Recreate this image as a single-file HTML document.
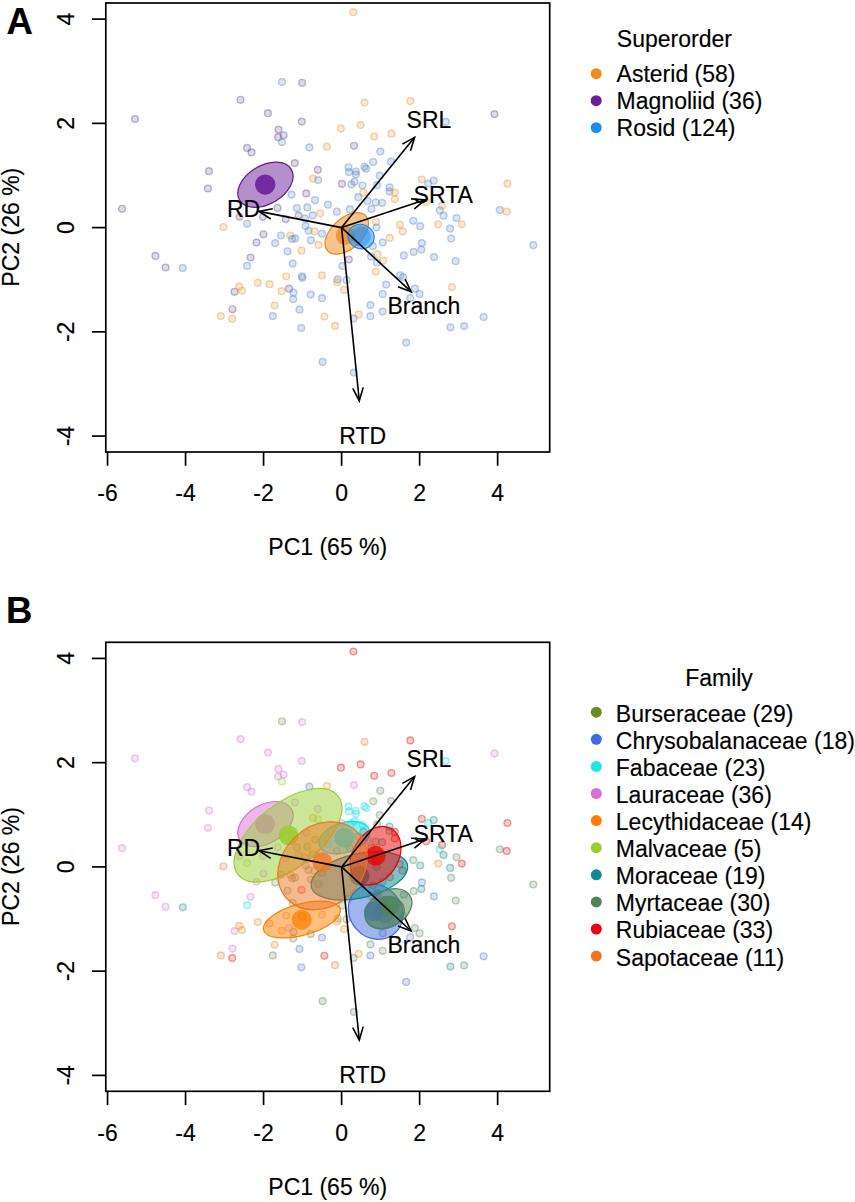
<!DOCTYPE html><html><head><meta charset="utf-8"><style>html,body{margin:0;padding:0;background:#fff}svg{display:block}</style></head><body>
<svg width="855" height="1202" viewBox="0 0 855 1202">
<defs><filter id="pb" x="-5%" y="-5%" width="110%" height="110%"><feGaussianBlur stdDeviation="0.55"/></filter></defs>
<rect width="855" height="1202" fill="#fff"/>
<g filter="url(#pb)">
<circle cx="135.0" cy="119.0" r="3.4" fill="#604283" fill-opacity="0.2" stroke="#604283" stroke-opacity="0.37" stroke-width="1.4"/>
<circle cx="209.0" cy="171.2" r="3.4" fill="#604283" fill-opacity="0.2" stroke="#604283" stroke-opacity="0.37" stroke-width="1.4"/>
<circle cx="207.9" cy="188.5" r="3.4" fill="#604283" fill-opacity="0.2" stroke="#604283" stroke-opacity="0.37" stroke-width="1.4"/>
<circle cx="122.0" cy="208.8" r="3.4" fill="#604283" fill-opacity="0.2" stroke="#604283" stroke-opacity="0.37" stroke-width="1.4"/>
<circle cx="223.4" cy="227.0" r="3.4" fill="#DE9230" fill-opacity="0.2" stroke="#DE9230" stroke-opacity="0.37" stroke-width="1.4"/>
<circle cx="155.4" cy="255.9" r="3.4" fill="#604283" fill-opacity="0.2" stroke="#604283" stroke-opacity="0.37" stroke-width="1.4"/>
<circle cx="165.6" cy="267.5" r="3.4" fill="#604283" fill-opacity="0.2" stroke="#604283" stroke-opacity="0.37" stroke-width="1.4"/>
<circle cx="182.8" cy="268.0" r="3.4" fill="#517DBE" fill-opacity="0.2" stroke="#517DBE" stroke-opacity="0.37" stroke-width="1.4"/>
<circle cx="234.5" cy="291.8" r="3.4" fill="#604283" fill-opacity="0.2" stroke="#604283" stroke-opacity="0.37" stroke-width="1.4"/>
<circle cx="232.5" cy="309.3" r="3.4" fill="#604283" fill-opacity="0.2" stroke="#604283" stroke-opacity="0.37" stroke-width="1.4"/>
<circle cx="220.8" cy="316.1" r="3.4" fill="#DE9230" fill-opacity="0.2" stroke="#DE9230" stroke-opacity="0.37" stroke-width="1.4"/>
<circle cx="232.2" cy="318.7" r="3.4" fill="#DE9230" fill-opacity="0.2" stroke="#DE9230" stroke-opacity="0.37" stroke-width="1.4"/>
<circle cx="322.6" cy="361.9" r="3.4" fill="#517DBE" fill-opacity="0.2" stroke="#517DBE" stroke-opacity="0.37" stroke-width="1.4"/>
<circle cx="353.9" cy="372.6" r="3.4" fill="#517DBE" fill-opacity="0.2" stroke="#517DBE" stroke-opacity="0.37" stroke-width="1.4"/>
<circle cx="353.4" cy="12.2" r="3.4" fill="#DE9230" fill-opacity="0.2" stroke="#DE9230" stroke-opacity="0.37" stroke-width="1.4"/>
<circle cx="364.5" cy="102.5" r="3.4" fill="#DE9230" fill-opacity="0.2" stroke="#DE9230" stroke-opacity="0.37" stroke-width="1.4"/>
<circle cx="410.3" cy="101.1" r="3.4" fill="#DE9230" fill-opacity="0.2" stroke="#DE9230" stroke-opacity="0.37" stroke-width="1.4"/>
<circle cx="494.5" cy="114.1" r="3.4" fill="#604283" fill-opacity="0.2" stroke="#604283" stroke-opacity="0.37" stroke-width="1.4"/>
<circle cx="282.0" cy="82.0" r="3.4" fill="#517DBE" fill-opacity="0.2" stroke="#517DBE" stroke-opacity="0.37" stroke-width="1.4"/>
<circle cx="302.1" cy="82.8" r="3.4" fill="#604283" fill-opacity="0.2" stroke="#604283" stroke-opacity="0.37" stroke-width="1.4"/>
<circle cx="240.5" cy="99.8" r="3.4" fill="#604283" fill-opacity="0.2" stroke="#604283" stroke-opacity="0.37" stroke-width="1.4"/>
<circle cx="267.9" cy="113.2" r="3.4" fill="#604283" fill-opacity="0.2" stroke="#604283" stroke-opacity="0.37" stroke-width="1.4"/>
<circle cx="301.8" cy="121.6" r="3.4" fill="#604283" fill-opacity="0.2" stroke="#604283" stroke-opacity="0.37" stroke-width="1.4"/>
<circle cx="340.9" cy="128.4" r="3.4" fill="#DE9230" fill-opacity="0.2" stroke="#DE9230" stroke-opacity="0.37" stroke-width="1.4"/>
<circle cx="278.5" cy="129.6" r="3.4" fill="#604283" fill-opacity="0.2" stroke="#604283" stroke-opacity="0.37" stroke-width="1.4"/>
<circle cx="278.1" cy="137.2" r="3.4" fill="#604283" fill-opacity="0.2" stroke="#604283" stroke-opacity="0.37" stroke-width="1.4"/>
<circle cx="283.6" cy="135.3" r="3.4" fill="#604283" fill-opacity="0.2" stroke="#604283" stroke-opacity="0.37" stroke-width="1.4"/>
<circle cx="282.0" cy="142.1" r="3.4" fill="#517DBE" fill-opacity="0.2" stroke="#517DBE" stroke-opacity="0.37" stroke-width="1.4"/>
<circle cx="247.1" cy="147.9" r="3.4" fill="#604283" fill-opacity="0.2" stroke="#604283" stroke-opacity="0.37" stroke-width="1.4"/>
<circle cx="251.5" cy="152.4" r="3.4" fill="#604283" fill-opacity="0.2" stroke="#604283" stroke-opacity="0.37" stroke-width="1.4"/>
<circle cx="309.4" cy="147.4" r="3.4" fill="#517DBE" fill-opacity="0.2" stroke="#517DBE" stroke-opacity="0.37" stroke-width="1.4"/>
<circle cx="326.9" cy="146.7" r="3.4" fill="#DE9230" fill-opacity="0.2" stroke="#DE9230" stroke-opacity="0.37" stroke-width="1.4"/>
<circle cx="294.8" cy="163.1" r="3.4" fill="#604283" fill-opacity="0.2" stroke="#604283" stroke-opacity="0.37" stroke-width="1.4"/>
<circle cx="317.8" cy="169.8" r="3.4" fill="#604283" fill-opacity="0.2" stroke="#604283" stroke-opacity="0.37" stroke-width="1.4"/>
<circle cx="313.0" cy="178.6" r="3.4" fill="#DE9230" fill-opacity="0.2" stroke="#DE9230" stroke-opacity="0.37" stroke-width="1.4"/>
<circle cx="318.1" cy="180.1" r="3.4" fill="#517DBE" fill-opacity="0.2" stroke="#517DBE" stroke-opacity="0.37" stroke-width="1.4"/>
<circle cx="360.6" cy="125.1" r="3.4" fill="#DE9230" fill-opacity="0.2" stroke="#DE9230" stroke-opacity="0.37" stroke-width="1.4"/>
<circle cx="374.2" cy="136.5" r="3.4" fill="#DE9230" fill-opacity="0.2" stroke="#DE9230" stroke-opacity="0.37" stroke-width="1.4"/>
<circle cx="391.4" cy="133.7" r="3.4" fill="#DE9230" fill-opacity="0.2" stroke="#DE9230" stroke-opacity="0.37" stroke-width="1.4"/>
<circle cx="354.0" cy="145.8" r="3.4" fill="#604283" fill-opacity="0.2" stroke="#604283" stroke-opacity="0.37" stroke-width="1.4"/>
<circle cx="380.3" cy="151.5" r="3.4" fill="#517DBE" fill-opacity="0.2" stroke="#517DBE" stroke-opacity="0.37" stroke-width="1.4"/>
<circle cx="373.2" cy="162.0" r="3.4" fill="#517DBE" fill-opacity="0.2" stroke="#517DBE" stroke-opacity="0.37" stroke-width="1.4"/>
<circle cx="391.0" cy="161.7" r="3.4" fill="#517DBE" fill-opacity="0.2" stroke="#517DBE" stroke-opacity="0.37" stroke-width="1.4"/>
<circle cx="348.5" cy="167.3" r="3.4" fill="#517DBE" fill-opacity="0.2" stroke="#517DBE" stroke-opacity="0.37" stroke-width="1.4"/>
<circle cx="348.9" cy="172.0" r="3.4" fill="#517DBE" fill-opacity="0.2" stroke="#517DBE" stroke-opacity="0.37" stroke-width="1.4"/>
<circle cx="355.9" cy="171.5" r="3.4" fill="#517DBE" fill-opacity="0.2" stroke="#517DBE" stroke-opacity="0.37" stroke-width="1.4"/>
<circle cx="355.9" cy="174.5" r="3.4" fill="#517DBE" fill-opacity="0.2" stroke="#517DBE" stroke-opacity="0.37" stroke-width="1.4"/>
<circle cx="364.4" cy="166.8" r="3.4" fill="#517DBE" fill-opacity="0.2" stroke="#517DBE" stroke-opacity="0.37" stroke-width="1.4"/>
<circle cx="366.2" cy="168.7" r="3.4" fill="#517DBE" fill-opacity="0.2" stroke="#517DBE" stroke-opacity="0.37" stroke-width="1.4"/>
<circle cx="379.8" cy="175.7" r="3.4" fill="#517DBE" fill-opacity="0.2" stroke="#517DBE" stroke-opacity="0.37" stroke-width="1.4"/>
<circle cx="341.9" cy="183.9" r="3.4" fill="#604283" fill-opacity="0.2" stroke="#604283" stroke-opacity="0.37" stroke-width="1.4"/>
<circle cx="351.3" cy="184.4" r="3.4" fill="#517DBE" fill-opacity="0.2" stroke="#517DBE" stroke-opacity="0.37" stroke-width="1.4"/>
<circle cx="354.5" cy="181.8" r="3.4" fill="#517DBE" fill-opacity="0.2" stroke="#517DBE" stroke-opacity="0.37" stroke-width="1.4"/>
<circle cx="362.5" cy="185.5" r="3.4" fill="#517DBE" fill-opacity="0.2" stroke="#517DBE" stroke-opacity="0.37" stroke-width="1.4"/>
<circle cx="377.0" cy="185.1" r="3.4" fill="#517DBE" fill-opacity="0.2" stroke="#517DBE" stroke-opacity="0.37" stroke-width="1.4"/>
<circle cx="389.6" cy="187.4" r="3.4" fill="#517DBE" fill-opacity="0.2" stroke="#517DBE" stroke-opacity="0.37" stroke-width="1.4"/>
<circle cx="389.6" cy="191.6" r="3.4" fill="#517DBE" fill-opacity="0.2" stroke="#517DBE" stroke-opacity="0.37" stroke-width="1.4"/>
<circle cx="394.8" cy="192.6" r="3.4" fill="#DE9230" fill-opacity="0.2" stroke="#DE9230" stroke-opacity="0.37" stroke-width="1.4"/>
<circle cx="394.8" cy="199.1" r="3.4" fill="#DE9230" fill-opacity="0.2" stroke="#DE9230" stroke-opacity="0.37" stroke-width="1.4"/>
<circle cx="363.4" cy="192.6" r="3.4" fill="#DE9230" fill-opacity="0.2" stroke="#DE9230" stroke-opacity="0.37" stroke-width="1.4"/>
<circle cx="358.3" cy="197.2" r="3.4" fill="#517DBE" fill-opacity="0.2" stroke="#517DBE" stroke-opacity="0.37" stroke-width="1.4"/>
<circle cx="367.6" cy="201.0" r="3.4" fill="#517DBE" fill-opacity="0.2" stroke="#517DBE" stroke-opacity="0.37" stroke-width="1.4"/>
<circle cx="375.6" cy="202.4" r="3.4" fill="#517DBE" fill-opacity="0.2" stroke="#517DBE" stroke-opacity="0.37" stroke-width="1.4"/>
<circle cx="382.1" cy="202.9" r="3.4" fill="#517DBE" fill-opacity="0.2" stroke="#517DBE" stroke-opacity="0.37" stroke-width="1.4"/>
<circle cx="371.4" cy="208.9" r="3.4" fill="#517DBE" fill-opacity="0.2" stroke="#517DBE" stroke-opacity="0.37" stroke-width="1.4"/>
<circle cx="327.9" cy="204.7" r="3.4" fill="#517DBE" fill-opacity="0.2" stroke="#517DBE" stroke-opacity="0.37" stroke-width="1.4"/>
<circle cx="336.8" cy="211.7" r="3.4" fill="#517DBE" fill-opacity="0.2" stroke="#517DBE" stroke-opacity="0.37" stroke-width="1.4"/>
<circle cx="349.9" cy="209.4" r="3.4" fill="#517DBE" fill-opacity="0.2" stroke="#517DBE" stroke-opacity="0.37" stroke-width="1.4"/>
<circle cx="376.0" cy="222.0" r="3.4" fill="#DE9230" fill-opacity="0.2" stroke="#DE9230" stroke-opacity="0.37" stroke-width="1.4"/>
<circle cx="376.5" cy="227.6" r="3.4" fill="#517DBE" fill-opacity="0.2" stroke="#517DBE" stroke-opacity="0.37" stroke-width="1.4"/>
<circle cx="399.9" cy="224.8" r="3.4" fill="#DE9230" fill-opacity="0.2" stroke="#DE9230" stroke-opacity="0.37" stroke-width="1.4"/>
<circle cx="421.8" cy="179.5" r="3.4" fill="#DE9230" fill-opacity="0.2" stroke="#DE9230" stroke-opacity="0.37" stroke-width="1.4"/>
<circle cx="428.2" cy="183.6" r="3.4" fill="#517DBE" fill-opacity="0.2" stroke="#517DBE" stroke-opacity="0.37" stroke-width="1.4"/>
<circle cx="306.2" cy="193.4" r="3.4" fill="#604283" fill-opacity="0.2" stroke="#604283" stroke-opacity="0.37" stroke-width="1.4"/>
<circle cx="291.6" cy="194.6" r="3.4" fill="#517DBE" fill-opacity="0.2" stroke="#517DBE" stroke-opacity="0.37" stroke-width="1.4"/>
<circle cx="315.0" cy="200.2" r="3.4" fill="#517DBE" fill-opacity="0.2" stroke="#517DBE" stroke-opacity="0.37" stroke-width="1.4"/>
<circle cx="277.5" cy="208.0" r="3.4" fill="#604283" fill-opacity="0.2" stroke="#604283" stroke-opacity="0.37" stroke-width="1.4"/>
<circle cx="296.8" cy="208.0" r="3.4" fill="#517DBE" fill-opacity="0.2" stroke="#517DBE" stroke-opacity="0.37" stroke-width="1.4"/>
<circle cx="307.3" cy="207.4" r="3.4" fill="#517DBE" fill-opacity="0.2" stroke="#517DBE" stroke-opacity="0.37" stroke-width="1.4"/>
<circle cx="320.2" cy="213.3" r="3.4" fill="#DE9230" fill-opacity="0.2" stroke="#DE9230" stroke-opacity="0.37" stroke-width="1.4"/>
<circle cx="312.6" cy="215.4" r="3.4" fill="#517DBE" fill-opacity="0.2" stroke="#517DBE" stroke-opacity="0.37" stroke-width="1.4"/>
<circle cx="298.6" cy="215.6" r="3.4" fill="#604283" fill-opacity="0.2" stroke="#604283" stroke-opacity="0.37" stroke-width="1.4"/>
<circle cx="305.0" cy="218.5" r="3.4" fill="#517DBE" fill-opacity="0.2" stroke="#517DBE" stroke-opacity="0.37" stroke-width="1.4"/>
<circle cx="285.7" cy="219.1" r="3.4" fill="#604283" fill-opacity="0.2" stroke="#604283" stroke-opacity="0.37" stroke-width="1.4"/>
<circle cx="262.9" cy="216.8" r="3.4" fill="#604283" fill-opacity="0.2" stroke="#604283" stroke-opacity="0.37" stroke-width="1.4"/>
<circle cx="239.5" cy="216.8" r="3.4" fill="#604283" fill-opacity="0.2" stroke="#604283" stroke-opacity="0.37" stroke-width="1.4"/>
<circle cx="247.1" cy="223.8" r="3.4" fill="#517DBE" fill-opacity="0.2" stroke="#517DBE" stroke-opacity="0.37" stroke-width="1.4"/>
<circle cx="305.6" cy="226.1" r="3.4" fill="#517DBE" fill-opacity="0.2" stroke="#517DBE" stroke-opacity="0.37" stroke-width="1.4"/>
<circle cx="308.5" cy="230.8" r="3.4" fill="#517DBE" fill-opacity="0.2" stroke="#517DBE" stroke-opacity="0.37" stroke-width="1.4"/>
<circle cx="314.4" cy="231.4" r="3.4" fill="#DE9230" fill-opacity="0.2" stroke="#DE9230" stroke-opacity="0.37" stroke-width="1.4"/>
<circle cx="322.0" cy="233.7" r="3.4" fill="#517DBE" fill-opacity="0.2" stroke="#517DBE" stroke-opacity="0.37" stroke-width="1.4"/>
<circle cx="281.0" cy="235.5" r="3.4" fill="#517DBE" fill-opacity="0.2" stroke="#517DBE" stroke-opacity="0.37" stroke-width="1.4"/>
<circle cx="290.4" cy="235.5" r="3.4" fill="#DE9230" fill-opacity="0.2" stroke="#DE9230" stroke-opacity="0.37" stroke-width="1.4"/>
<circle cx="295.1" cy="238.4" r="3.4" fill="#517DBE" fill-opacity="0.2" stroke="#517DBE" stroke-opacity="0.37" stroke-width="1.4"/>
<circle cx="292.1" cy="239.0" r="3.4" fill="#517DBE" fill-opacity="0.2" stroke="#517DBE" stroke-opacity="0.37" stroke-width="1.4"/>
<circle cx="263.5" cy="234.3" r="3.4" fill="#604283" fill-opacity="0.2" stroke="#604283" stroke-opacity="0.37" stroke-width="1.4"/>
<circle cx="256.5" cy="242.5" r="3.4" fill="#604283" fill-opacity="0.2" stroke="#604283" stroke-opacity="0.37" stroke-width="1.4"/>
<circle cx="275.2" cy="243.1" r="3.4" fill="#517DBE" fill-opacity="0.2" stroke="#517DBE" stroke-opacity="0.37" stroke-width="1.4"/>
<circle cx="310.9" cy="240.2" r="3.4" fill="#517DBE" fill-opacity="0.2" stroke="#517DBE" stroke-opacity="0.37" stroke-width="1.4"/>
<circle cx="318.5" cy="244.9" r="3.4" fill="#DE9230" fill-opacity="0.2" stroke="#DE9230" stroke-opacity="0.37" stroke-width="1.4"/>
<circle cx="287.5" cy="251.3" r="3.4" fill="#517DBE" fill-opacity="0.2" stroke="#517DBE" stroke-opacity="0.37" stroke-width="1.4"/>
<circle cx="301.5" cy="250.7" r="3.4" fill="#DE9230" fill-opacity="0.2" stroke="#DE9230" stroke-opacity="0.37" stroke-width="1.4"/>
<circle cx="250.6" cy="257.5" r="3.4" fill="#604283" fill-opacity="0.2" stroke="#604283" stroke-opacity="0.37" stroke-width="1.4"/>
<circle cx="247.1" cy="265.9" r="3.4" fill="#517DBE" fill-opacity="0.2" stroke="#517DBE" stroke-opacity="0.37" stroke-width="1.4"/>
<circle cx="292.7" cy="263.6" r="3.4" fill="#517DBE" fill-opacity="0.2" stroke="#517DBE" stroke-opacity="0.37" stroke-width="1.4"/>
<circle cx="286.2" cy="276.3" r="3.4" fill="#DE9230" fill-opacity="0.2" stroke="#DE9230" stroke-opacity="0.37" stroke-width="1.4"/>
<circle cx="301.9" cy="276.3" r="3.4" fill="#517DBE" fill-opacity="0.2" stroke="#517DBE" stroke-opacity="0.37" stroke-width="1.4"/>
<circle cx="322.0" cy="275.4" r="3.4" fill="#DE9230" fill-opacity="0.2" stroke="#DE9230" stroke-opacity="0.37" stroke-width="1.4"/>
<circle cx="257.8" cy="282.8" r="3.4" fill="#DE9230" fill-opacity="0.2" stroke="#DE9230" stroke-opacity="0.37" stroke-width="1.4"/>
<circle cx="269.6" cy="284.2" r="3.4" fill="#DE9230" fill-opacity="0.2" stroke="#DE9230" stroke-opacity="0.37" stroke-width="1.4"/>
<circle cx="239.2" cy="286.6" r="3.4" fill="#DE9230" fill-opacity="0.2" stroke="#DE9230" stroke-opacity="0.37" stroke-width="1.4"/>
<circle cx="242.0" cy="290.8" r="3.4" fill="#DE9230" fill-opacity="0.2" stroke="#DE9230" stroke-opacity="0.37" stroke-width="1.4"/>
<circle cx="281.7" cy="291.2" r="3.4" fill="#DE9230" fill-opacity="0.2" stroke="#DE9230" stroke-opacity="0.37" stroke-width="1.4"/>
<circle cx="289.0" cy="288.7" r="3.4" fill="#604283" fill-opacity="0.2" stroke="#604283" stroke-opacity="0.37" stroke-width="1.4"/>
<circle cx="293.5" cy="292.6" r="3.4" fill="#517DBE" fill-opacity="0.2" stroke="#517DBE" stroke-opacity="0.37" stroke-width="1.4"/>
<circle cx="293.2" cy="299.2" r="3.4" fill="#517DBE" fill-opacity="0.2" stroke="#517DBE" stroke-opacity="0.37" stroke-width="1.4"/>
<circle cx="310.7" cy="294.6" r="3.4" fill="#517DBE" fill-opacity="0.2" stroke="#517DBE" stroke-opacity="0.37" stroke-width="1.4"/>
<circle cx="322.0" cy="298.2" r="3.4" fill="#517DBE" fill-opacity="0.2" stroke="#517DBE" stroke-opacity="0.37" stroke-width="1.4"/>
<circle cx="274.7" cy="305.5" r="3.4" fill="#DE9230" fill-opacity="0.2" stroke="#DE9230" stroke-opacity="0.37" stroke-width="1.4"/>
<circle cx="272.8" cy="316.1" r="3.4" fill="#517DBE" fill-opacity="0.2" stroke="#517DBE" stroke-opacity="0.37" stroke-width="1.4"/>
<circle cx="299.5" cy="309.7" r="3.4" fill="#517DBE" fill-opacity="0.2" stroke="#517DBE" stroke-opacity="0.37" stroke-width="1.4"/>
<circle cx="324.4" cy="316.5" r="3.4" fill="#DE9230" fill-opacity="0.2" stroke="#DE9230" stroke-opacity="0.37" stroke-width="1.4"/>
<circle cx="301.3" cy="328.0" r="3.4" fill="#517DBE" fill-opacity="0.2" stroke="#517DBE" stroke-opacity="0.37" stroke-width="1.4"/>
<circle cx="335.0" cy="325.9" r="3.4" fill="#DE9230" fill-opacity="0.2" stroke="#DE9230" stroke-opacity="0.37" stroke-width="1.4"/>
<circle cx="402.6" cy="231.4" r="3.4" fill="#DE9230" fill-opacity="0.2" stroke="#DE9230" stroke-opacity="0.37" stroke-width="1.4"/>
<circle cx="420.2" cy="226.2" r="3.4" fill="#517DBE" fill-opacity="0.2" stroke="#517DBE" stroke-opacity="0.37" stroke-width="1.4"/>
<circle cx="389.7" cy="237.9" r="3.4" fill="#DE9230" fill-opacity="0.2" stroke="#DE9230" stroke-opacity="0.37" stroke-width="1.4"/>
<circle cx="382.7" cy="242.5" r="3.4" fill="#517DBE" fill-opacity="0.2" stroke="#517DBE" stroke-opacity="0.37" stroke-width="1.4"/>
<circle cx="372.8" cy="246.1" r="3.4" fill="#517DBE" fill-opacity="0.2" stroke="#517DBE" stroke-opacity="0.37" stroke-width="1.4"/>
<circle cx="421.9" cy="243.1" r="3.4" fill="#517DBE" fill-opacity="0.2" stroke="#517DBE" stroke-opacity="0.37" stroke-width="1.4"/>
<circle cx="421.3" cy="249.6" r="3.4" fill="#517DBE" fill-opacity="0.2" stroke="#517DBE" stroke-opacity="0.37" stroke-width="1.4"/>
<circle cx="413.7" cy="251.9" r="3.4" fill="#517DBE" fill-opacity="0.2" stroke="#517DBE" stroke-opacity="0.37" stroke-width="1.4"/>
<circle cx="403.8" cy="255.4" r="3.4" fill="#517DBE" fill-opacity="0.2" stroke="#517DBE" stroke-opacity="0.37" stroke-width="1.4"/>
<circle cx="377.5" cy="254.2" r="3.4" fill="#DE9230" fill-opacity="0.2" stroke="#DE9230" stroke-opacity="0.37" stroke-width="1.4"/>
<circle cx="371.0" cy="256.6" r="3.4" fill="#517DBE" fill-opacity="0.2" stroke="#517DBE" stroke-opacity="0.37" stroke-width="1.4"/>
<circle cx="348.8" cy="259.5" r="3.4" fill="#604283" fill-opacity="0.2" stroke="#604283" stroke-opacity="0.37" stroke-width="1.4"/>
<circle cx="342.4" cy="266.0" r="3.4" fill="#517DBE" fill-opacity="0.2" stroke="#517DBE" stroke-opacity="0.37" stroke-width="1.4"/>
<circle cx="383.3" cy="260.7" r="3.4" fill="#DE9230" fill-opacity="0.2" stroke="#DE9230" stroke-opacity="0.37" stroke-width="1.4"/>
<circle cx="376.9" cy="262.4" r="3.4" fill="#517DBE" fill-opacity="0.2" stroke="#517DBE" stroke-opacity="0.37" stroke-width="1.4"/>
<circle cx="375.7" cy="271.8" r="3.4" fill="#DE9230" fill-opacity="0.2" stroke="#DE9230" stroke-opacity="0.37" stroke-width="1.4"/>
<circle cx="337.7" cy="279.4" r="3.4" fill="#517DBE" fill-opacity="0.2" stroke="#517DBE" stroke-opacity="0.37" stroke-width="1.4"/>
<circle cx="337.1" cy="282.3" r="3.4" fill="#DE9230" fill-opacity="0.2" stroke="#DE9230" stroke-opacity="0.37" stroke-width="1.4"/>
<circle cx="346.5" cy="280.0" r="3.4" fill="#517DBE" fill-opacity="0.2" stroke="#517DBE" stroke-opacity="0.37" stroke-width="1.4"/>
<circle cx="400.3" cy="275.3" r="3.4" fill="#517DBE" fill-opacity="0.2" stroke="#517DBE" stroke-opacity="0.37" stroke-width="1.4"/>
<circle cx="403.2" cy="277.0" r="3.4" fill="#517DBE" fill-opacity="0.2" stroke="#517DBE" stroke-opacity="0.37" stroke-width="1.4"/>
<circle cx="386.2" cy="284.6" r="3.4" fill="#517DBE" fill-opacity="0.2" stroke="#517DBE" stroke-opacity="0.37" stroke-width="1.4"/>
<circle cx="344.1" cy="289.9" r="3.4" fill="#DE9230" fill-opacity="0.2" stroke="#DE9230" stroke-opacity="0.37" stroke-width="1.4"/>
<circle cx="382.7" cy="294.0" r="3.4" fill="#517DBE" fill-opacity="0.2" stroke="#517DBE" stroke-opacity="0.37" stroke-width="1.4"/>
<circle cx="414.9" cy="288.7" r="3.4" fill="#517DBE" fill-opacity="0.2" stroke="#517DBE" stroke-opacity="0.37" stroke-width="1.4"/>
<circle cx="419.6" cy="294.0" r="3.4" fill="#517DBE" fill-opacity="0.2" stroke="#517DBE" stroke-opacity="0.37" stroke-width="1.4"/>
<circle cx="410.2" cy="298.1" r="3.4" fill="#517DBE" fill-opacity="0.2" stroke="#517DBE" stroke-opacity="0.37" stroke-width="1.4"/>
<circle cx="370.4" cy="305.1" r="3.4" fill="#517DBE" fill-opacity="0.2" stroke="#517DBE" stroke-opacity="0.37" stroke-width="1.4"/>
<circle cx="382.7" cy="311.5" r="3.4" fill="#517DBE" fill-opacity="0.2" stroke="#517DBE" stroke-opacity="0.37" stroke-width="1.4"/>
<circle cx="370.4" cy="316.2" r="3.4" fill="#517DBE" fill-opacity="0.2" stroke="#517DBE" stroke-opacity="0.37" stroke-width="1.4"/>
<circle cx="358.7" cy="314.5" r="3.4" fill="#DE9230" fill-opacity="0.2" stroke="#DE9230" stroke-opacity="0.37" stroke-width="1.4"/>
<circle cx="353.5" cy="318.6" r="3.4" fill="#517DBE" fill-opacity="0.2" stroke="#517DBE" stroke-opacity="0.37" stroke-width="1.4"/>
<circle cx="406.1" cy="342.6" r="3.4" fill="#517DBE" fill-opacity="0.2" stroke="#517DBE" stroke-opacity="0.37" stroke-width="1.4"/>
<circle cx="445.8" cy="121.9" r="3.4" fill="#517DBE" fill-opacity="0.2" stroke="#517DBE" stroke-opacity="0.37" stroke-width="1.4"/>
<circle cx="433.7" cy="180.7" r="3.4" fill="#517DBE" fill-opacity="0.2" stroke="#517DBE" stroke-opacity="0.37" stroke-width="1.4"/>
<circle cx="507.4" cy="183.7" r="3.4" fill="#DE9230" fill-opacity="0.2" stroke="#DE9230" stroke-opacity="0.37" stroke-width="1.4"/>
<circle cx="426.1" cy="202.0" r="3.4" fill="#DE9230" fill-opacity="0.2" stroke="#DE9230" stroke-opacity="0.37" stroke-width="1.4"/>
<circle cx="442.0" cy="205.8" r="3.4" fill="#DE9230" fill-opacity="0.2" stroke="#DE9230" stroke-opacity="0.37" stroke-width="1.4"/>
<circle cx="439.8" cy="210.3" r="3.4" fill="#517DBE" fill-opacity="0.2" stroke="#517DBE" stroke-opacity="0.37" stroke-width="1.4"/>
<circle cx="443.6" cy="215.7" r="3.4" fill="#517DBE" fill-opacity="0.2" stroke="#517DBE" stroke-opacity="0.37" stroke-width="1.4"/>
<circle cx="499.8" cy="210.0" r="3.4" fill="#517DBE" fill-opacity="0.2" stroke="#517DBE" stroke-opacity="0.37" stroke-width="1.4"/>
<circle cx="506.7" cy="211.6" r="3.4" fill="#DE9230" fill-opacity="0.2" stroke="#DE9230" stroke-opacity="0.37" stroke-width="1.4"/>
<circle cx="456.5" cy="218.0" r="3.4" fill="#517DBE" fill-opacity="0.2" stroke="#517DBE" stroke-opacity="0.37" stroke-width="1.4"/>
<circle cx="438.2" cy="224.3" r="3.4" fill="#DE9230" fill-opacity="0.2" stroke="#DE9230" stroke-opacity="0.37" stroke-width="1.4"/>
<circle cx="461.8" cy="224.3" r="3.4" fill="#DE9230" fill-opacity="0.2" stroke="#DE9230" stroke-opacity="0.37" stroke-width="1.4"/>
<circle cx="450.1" cy="228.6" r="3.4" fill="#517DBE" fill-opacity="0.2" stroke="#517DBE" stroke-opacity="0.37" stroke-width="1.4"/>
<circle cx="451.2" cy="238.5" r="3.4" fill="#517DBE" fill-opacity="0.2" stroke="#517DBE" stroke-opacity="0.37" stroke-width="1.4"/>
<circle cx="434.0" cy="257.1" r="3.4" fill="#517DBE" fill-opacity="0.2" stroke="#517DBE" stroke-opacity="0.37" stroke-width="1.4"/>
<circle cx="455.7" cy="261.2" r="3.4" fill="#517DBE" fill-opacity="0.2" stroke="#517DBE" stroke-opacity="0.37" stroke-width="1.4"/>
<circle cx="533.3" cy="245.2" r="3.4" fill="#517DBE" fill-opacity="0.2" stroke="#517DBE" stroke-opacity="0.37" stroke-width="1.4"/>
<circle cx="451.9" cy="287.0" r="3.4" fill="#DE9230" fill-opacity="0.2" stroke="#DE9230" stroke-opacity="0.37" stroke-width="1.4"/>
<circle cx="483.6" cy="317.0" r="3.4" fill="#517DBE" fill-opacity="0.2" stroke="#517DBE" stroke-opacity="0.37" stroke-width="1.4"/>
<circle cx="450.4" cy="327.3" r="3.4" fill="#517DBE" fill-opacity="0.2" stroke="#517DBE" stroke-opacity="0.37" stroke-width="1.4"/>
<circle cx="464.1" cy="326.1" r="3.4" fill="#517DBE" fill-opacity="0.2" stroke="#517DBE" stroke-opacity="0.37" stroke-width="1.4"/>
<circle cx="413.3" cy="220.8" r="3.4" fill="#517DBE" fill-opacity="0.2" stroke="#517DBE" stroke-opacity="0.37" stroke-width="1.4"/>
<circle cx="302.4" cy="277.8" r="3.4" fill="#517DBE" fill-opacity="0.2" stroke="#517DBE" stroke-opacity="0.37" stroke-width="1.4"/>
</g>
<ellipse cx="346.75" cy="233.40" rx="25.89" ry="15.21" transform="rotate(-42.09 346.75 233.40)" fill="#F28A1C" fill-opacity="0.5" stroke="#E8881A" stroke-width="1.2"/>
<circle cx="345.5" cy="235.5" r="9.6" fill="#F28A1C" fill-opacity="0.8"/>
<ellipse cx="265.45" cy="184.80" rx="30.10" ry="19.22" transform="rotate(-30.88 265.45 184.80)" fill="#6A1F9A" fill-opacity="0.5" stroke="#5A1A8A" stroke-width="1.2"/>
<circle cx="265.2" cy="184.6" r="10.2" fill="#6A1F9A" fill-opacity="0.9"/>
<ellipse cx="361.00" cy="236.60" rx="13.33" ry="12.11" transform="rotate(22.83 361.00 236.60)" fill="#1F8BEE" fill-opacity="0.5" stroke="#1F8BEE" stroke-width="1.2"/>
<circle cx="361" cy="236.6" r="10" fill="#1F8BEE" fill-opacity="0.5"/>
<g filter="url(#pb)">
<circle cx="135.0" cy="758.3" r="3.4" fill="#CD79CA" fill-opacity="0.2" stroke="#CD79CA" stroke-opacity="0.37" stroke-width="1.4"/>
<circle cx="209.0" cy="810.5" r="3.4" fill="#CD79CA" fill-opacity="0.2" stroke="#CD79CA" stroke-opacity="0.37" stroke-width="1.4"/>
<circle cx="207.9" cy="827.8" r="3.4" fill="#CD79CA" fill-opacity="0.2" stroke="#CD79CA" stroke-opacity="0.37" stroke-width="1.4"/>
<circle cx="122.0" cy="848.1" r="3.4" fill="#CD79CA" fill-opacity="0.2" stroke="#CD79CA" stroke-opacity="0.37" stroke-width="1.4"/>
<circle cx="223.4" cy="866.3" r="3.4" fill="#DB7B37" fill-opacity="0.2" stroke="#DB7B37" stroke-opacity="0.37" stroke-width="1.4"/>
<circle cx="155.4" cy="895.2" r="3.4" fill="#CD79CA" fill-opacity="0.2" stroke="#CD79CA" stroke-opacity="0.37" stroke-width="1.4"/>
<circle cx="165.6" cy="906.8" r="3.4" fill="#CD79CA" fill-opacity="0.2" stroke="#CD79CA" stroke-opacity="0.37" stroke-width="1.4"/>
<circle cx="182.8" cy="907.3" r="3.4" fill="#137E82" fill-opacity="0.2" stroke="#137E82" stroke-opacity="0.37" stroke-width="1.4"/>
<circle cx="234.5" cy="931.1" r="3.4" fill="#CD79CA" fill-opacity="0.2" stroke="#CD79CA" stroke-opacity="0.37" stroke-width="1.4"/>
<circle cx="232.5" cy="948.6" r="3.4" fill="#CD79CA" fill-opacity="0.2" stroke="#CD79CA" stroke-opacity="0.37" stroke-width="1.4"/>
<circle cx="220.8" cy="955.4" r="3.4" fill="#DB7B37" fill-opacity="0.2" stroke="#DB7B37" stroke-opacity="0.37" stroke-width="1.4"/>
<circle cx="232.2" cy="958.0" r="3.4" fill="#CD0E0E" fill-opacity="0.2" stroke="#CD0E0E" stroke-opacity="0.37" stroke-width="1.4"/>
<circle cx="322.6" cy="1001.2" r="3.4" fill="#55805B" fill-opacity="0.2" stroke="#55805B" stroke-opacity="0.37" stroke-width="1.4"/>
<circle cx="353.9" cy="1011.9" r="3.4" fill="#55805B" fill-opacity="0.2" stroke="#55805B" stroke-opacity="0.37" stroke-width="1.4"/>
<circle cx="353.4" cy="651.5" r="3.4" fill="#CD0E0E" fill-opacity="0.2" stroke="#CD0E0E" stroke-opacity="0.37" stroke-width="1.4"/>
<circle cx="364.5" cy="741.8" r="3.4" fill="#DB7B37" fill-opacity="0.2" stroke="#DB7B37" stroke-opacity="0.37" stroke-width="1.4"/>
<circle cx="410.3" cy="740.4" r="3.4" fill="#CD0E0E" fill-opacity="0.2" stroke="#CD0E0E" stroke-opacity="0.37" stroke-width="1.4"/>
<circle cx="494.5" cy="753.4" r="3.4" fill="#CD79CA" fill-opacity="0.2" stroke="#CD79CA" stroke-opacity="0.37" stroke-width="1.4"/>
<circle cx="282.0" cy="721.3" r="3.4" fill="#6D8934" fill-opacity="0.2" stroke="#6D8934" stroke-opacity="0.37" stroke-width="1.4"/>
<circle cx="302.1" cy="722.1" r="3.4" fill="#CD79CA" fill-opacity="0.2" stroke="#CD79CA" stroke-opacity="0.37" stroke-width="1.4"/>
<circle cx="240.5" cy="739.1" r="3.4" fill="#CD79CA" fill-opacity="0.2" stroke="#CD79CA" stroke-opacity="0.37" stroke-width="1.4"/>
<circle cx="267.9" cy="752.5" r="3.4" fill="#CD79CA" fill-opacity="0.2" stroke="#CD79CA" stroke-opacity="0.37" stroke-width="1.4"/>
<circle cx="301.8" cy="760.9" r="3.4" fill="#CD79CA" fill-opacity="0.2" stroke="#CD79CA" stroke-opacity="0.37" stroke-width="1.4"/>
<circle cx="340.9" cy="767.7" r="3.4" fill="#CD0E0E" fill-opacity="0.2" stroke="#CD0E0E" stroke-opacity="0.37" stroke-width="1.4"/>
<circle cx="278.5" cy="768.9" r="3.4" fill="#CD79CA" fill-opacity="0.2" stroke="#CD79CA" stroke-opacity="0.37" stroke-width="1.4"/>
<circle cx="278.1" cy="776.5" r="3.4" fill="#CD79CA" fill-opacity="0.2" stroke="#CD79CA" stroke-opacity="0.37" stroke-width="1.4"/>
<circle cx="283.6" cy="774.6" r="3.4" fill="#CD79CA" fill-opacity="0.2" stroke="#CD79CA" stroke-opacity="0.37" stroke-width="1.4"/>
<circle cx="282.0" cy="781.4" r="3.4" fill="#9EC64A" fill-opacity="0.2" stroke="#9EC64A" stroke-opacity="0.37" stroke-width="1.4"/>
<circle cx="247.1" cy="787.2" r="3.4" fill="#CD79CA" fill-opacity="0.2" stroke="#CD79CA" stroke-opacity="0.37" stroke-width="1.4"/>
<circle cx="251.5" cy="791.7" r="3.4" fill="#CD79CA" fill-opacity="0.2" stroke="#CD79CA" stroke-opacity="0.37" stroke-width="1.4"/>
<circle cx="309.4" cy="786.7" r="3.4" fill="#4969C9" fill-opacity="0.2" stroke="#4969C9" stroke-opacity="0.37" stroke-width="1.4"/>
<circle cx="326.9" cy="786.0" r="3.4" fill="#EA851E" fill-opacity="0.2" stroke="#EA851E" stroke-opacity="0.37" stroke-width="1.4"/>
<circle cx="294.8" cy="802.4" r="3.4" fill="#CD79CA" fill-opacity="0.2" stroke="#CD79CA" stroke-opacity="0.37" stroke-width="1.4"/>
<circle cx="317.8" cy="809.1" r="3.4" fill="#CD79CA" fill-opacity="0.2" stroke="#CD79CA" stroke-opacity="0.37" stroke-width="1.4"/>
<circle cx="313.0" cy="817.9" r="3.4" fill="#EA851E" fill-opacity="0.2" stroke="#EA851E" stroke-opacity="0.37" stroke-width="1.4"/>
<circle cx="318.1" cy="819.4" r="3.4" fill="#9EC64A" fill-opacity="0.2" stroke="#9EC64A" stroke-opacity="0.37" stroke-width="1.4"/>
<circle cx="360.6" cy="764.4" r="3.4" fill="#CD0E0E" fill-opacity="0.2" stroke="#CD0E0E" stroke-opacity="0.37" stroke-width="1.4"/>
<circle cx="374.2" cy="775.8" r="3.4" fill="#CD0E0E" fill-opacity="0.2" stroke="#CD0E0E" stroke-opacity="0.37" stroke-width="1.4"/>
<circle cx="391.4" cy="773.0" r="3.4" fill="#CD0E0E" fill-opacity="0.2" stroke="#CD0E0E" stroke-opacity="0.37" stroke-width="1.4"/>
<circle cx="354.0" cy="785.1" r="3.4" fill="#CD79CA" fill-opacity="0.2" stroke="#CD79CA" stroke-opacity="0.37" stroke-width="1.4"/>
<circle cx="380.3" cy="790.8" r="3.4" fill="#55805B" fill-opacity="0.2" stroke="#55805B" stroke-opacity="0.37" stroke-width="1.4"/>
<circle cx="373.2" cy="801.3" r="3.4" fill="#6D8934" fill-opacity="0.2" stroke="#6D8934" stroke-opacity="0.37" stroke-width="1.4"/>
<circle cx="391.0" cy="801.0" r="3.4" fill="#55805B" fill-opacity="0.2" stroke="#55805B" stroke-opacity="0.37" stroke-width="1.4"/>
<circle cx="348.5" cy="806.6" r="3.4" fill="#20D8DF" fill-opacity="0.2" stroke="#20D8DF" stroke-opacity="0.37" stroke-width="1.4"/>
<circle cx="348.9" cy="811.3" r="3.4" fill="#20D8DF" fill-opacity="0.2" stroke="#20D8DF" stroke-opacity="0.37" stroke-width="1.4"/>
<circle cx="355.9" cy="810.8" r="3.4" fill="#20D8DF" fill-opacity="0.2" stroke="#20D8DF" stroke-opacity="0.37" stroke-width="1.4"/>
<circle cx="355.9" cy="813.8" r="3.4" fill="#20D8DF" fill-opacity="0.2" stroke="#20D8DF" stroke-opacity="0.37" stroke-width="1.4"/>
<circle cx="364.4" cy="806.1" r="3.4" fill="#20D8DF" fill-opacity="0.2" stroke="#20D8DF" stroke-opacity="0.37" stroke-width="1.4"/>
<circle cx="366.2" cy="808.0" r="3.4" fill="#20D8DF" fill-opacity="0.2" stroke="#20D8DF" stroke-opacity="0.37" stroke-width="1.4"/>
<circle cx="379.8" cy="815.0" r="3.4" fill="#55805B" fill-opacity="0.2" stroke="#55805B" stroke-opacity="0.37" stroke-width="1.4"/>
<circle cx="341.9" cy="823.2" r="3.4" fill="#CD79CA" fill-opacity="0.2" stroke="#CD79CA" stroke-opacity="0.37" stroke-width="1.4"/>
<circle cx="351.3" cy="823.7" r="3.4" fill="#20D8DF" fill-opacity="0.2" stroke="#20D8DF" stroke-opacity="0.37" stroke-width="1.4"/>
<circle cx="354.5" cy="821.1" r="3.4" fill="#20D8DF" fill-opacity="0.2" stroke="#20D8DF" stroke-opacity="0.37" stroke-width="1.4"/>
<circle cx="362.5" cy="824.8" r="3.4" fill="#20D8DF" fill-opacity="0.2" stroke="#20D8DF" stroke-opacity="0.37" stroke-width="1.4"/>
<circle cx="377.0" cy="824.4" r="3.4" fill="#55805B" fill-opacity="0.2" stroke="#55805B" stroke-opacity="0.37" stroke-width="1.4"/>
<circle cx="389.6" cy="826.7" r="3.4" fill="#137E82" fill-opacity="0.2" stroke="#137E82" stroke-opacity="0.37" stroke-width="1.4"/>
<circle cx="389.6" cy="830.9" r="3.4" fill="#137E82" fill-opacity="0.2" stroke="#137E82" stroke-opacity="0.37" stroke-width="1.4"/>
<circle cx="394.8" cy="831.9" r="3.4" fill="#CD0E0E" fill-opacity="0.2" stroke="#CD0E0E" stroke-opacity="0.37" stroke-width="1.4"/>
<circle cx="394.8" cy="838.4" r="3.4" fill="#CD0E0E" fill-opacity="0.2" stroke="#CD0E0E" stroke-opacity="0.37" stroke-width="1.4"/>
<circle cx="363.4" cy="831.9" r="3.4" fill="#CD0E0E" fill-opacity="0.2" stroke="#CD0E0E" stroke-opacity="0.37" stroke-width="1.4"/>
<circle cx="358.3" cy="836.5" r="3.4" fill="#6D8934" fill-opacity="0.2" stroke="#6D8934" stroke-opacity="0.37" stroke-width="1.4"/>
<circle cx="367.6" cy="840.3" r="3.4" fill="#20D8DF" fill-opacity="0.2" stroke="#20D8DF" stroke-opacity="0.37" stroke-width="1.4"/>
<circle cx="375.6" cy="841.7" r="3.4" fill="#6D8934" fill-opacity="0.2" stroke="#6D8934" stroke-opacity="0.37" stroke-width="1.4"/>
<circle cx="382.1" cy="842.2" r="3.4" fill="#137E82" fill-opacity="0.2" stroke="#137E82" stroke-opacity="0.37" stroke-width="1.4"/>
<circle cx="371.4" cy="848.2" r="3.4" fill="#6D8934" fill-opacity="0.2" stroke="#6D8934" stroke-opacity="0.37" stroke-width="1.4"/>
<circle cx="327.9" cy="844.0" r="3.4" fill="#20D8DF" fill-opacity="0.2" stroke="#20D8DF" stroke-opacity="0.37" stroke-width="1.4"/>
<circle cx="336.8" cy="851.0" r="3.4" fill="#6D8934" fill-opacity="0.2" stroke="#6D8934" stroke-opacity="0.37" stroke-width="1.4"/>
<circle cx="349.9" cy="848.7" r="3.4" fill="#6D8934" fill-opacity="0.2" stroke="#6D8934" stroke-opacity="0.37" stroke-width="1.4"/>
<circle cx="376.0" cy="861.3" r="3.4" fill="#CD0E0E" fill-opacity="0.2" stroke="#CD0E0E" stroke-opacity="0.37" stroke-width="1.4"/>
<circle cx="376.5" cy="866.9" r="3.4" fill="#137E82" fill-opacity="0.2" stroke="#137E82" stroke-opacity="0.37" stroke-width="1.4"/>
<circle cx="399.9" cy="864.1" r="3.4" fill="#CD0E0E" fill-opacity="0.2" stroke="#CD0E0E" stroke-opacity="0.37" stroke-width="1.4"/>
<circle cx="421.8" cy="818.8" r="3.4" fill="#CD0E0E" fill-opacity="0.2" stroke="#CD0E0E" stroke-opacity="0.37" stroke-width="1.4"/>
<circle cx="428.2" cy="822.9" r="3.4" fill="#20D8DF" fill-opacity="0.2" stroke="#20D8DF" stroke-opacity="0.37" stroke-width="1.4"/>
<circle cx="306.2" cy="832.7" r="3.4" fill="#CD79CA" fill-opacity="0.2" stroke="#CD79CA" stroke-opacity="0.37" stroke-width="1.4"/>
<circle cx="291.6" cy="833.9" r="3.4" fill="#6D8934" fill-opacity="0.2" stroke="#6D8934" stroke-opacity="0.37" stroke-width="1.4"/>
<circle cx="315.0" cy="839.5" r="3.4" fill="#6D8934" fill-opacity="0.2" stroke="#6D8934" stroke-opacity="0.37" stroke-width="1.4"/>
<circle cx="277.5" cy="847.3" r="3.4" fill="#CD79CA" fill-opacity="0.2" stroke="#CD79CA" stroke-opacity="0.37" stroke-width="1.4"/>
<circle cx="296.8" cy="847.3" r="3.4" fill="#6D8934" fill-opacity="0.2" stroke="#6D8934" stroke-opacity="0.37" stroke-width="1.4"/>
<circle cx="307.3" cy="846.7" r="3.4" fill="#6D8934" fill-opacity="0.2" stroke="#6D8934" stroke-opacity="0.37" stroke-width="1.4"/>
<circle cx="320.2" cy="852.6" r="3.4" fill="#DB7B37" fill-opacity="0.2" stroke="#DB7B37" stroke-opacity="0.37" stroke-width="1.4"/>
<circle cx="312.6" cy="854.7" r="3.4" fill="#6D8934" fill-opacity="0.2" stroke="#6D8934" stroke-opacity="0.37" stroke-width="1.4"/>
<circle cx="298.6" cy="854.9" r="3.4" fill="#CD79CA" fill-opacity="0.2" stroke="#CD79CA" stroke-opacity="0.37" stroke-width="1.4"/>
<circle cx="305.0" cy="857.8" r="3.4" fill="#6D8934" fill-opacity="0.2" stroke="#6D8934" stroke-opacity="0.37" stroke-width="1.4"/>
<circle cx="285.7" cy="858.4" r="3.4" fill="#CD79CA" fill-opacity="0.2" stroke="#CD79CA" stroke-opacity="0.37" stroke-width="1.4"/>
<circle cx="262.9" cy="856.1" r="3.4" fill="#CD79CA" fill-opacity="0.2" stroke="#CD79CA" stroke-opacity="0.37" stroke-width="1.4"/>
<circle cx="239.5" cy="856.1" r="3.4" fill="#CD79CA" fill-opacity="0.2" stroke="#CD79CA" stroke-opacity="0.37" stroke-width="1.4"/>
<circle cx="247.1" cy="863.1" r="3.4" fill="#9EC64A" fill-opacity="0.2" stroke="#9EC64A" stroke-opacity="0.37" stroke-width="1.4"/>
<circle cx="305.6" cy="865.4" r="3.4" fill="#6D8934" fill-opacity="0.2" stroke="#6D8934" stroke-opacity="0.37" stroke-width="1.4"/>
<circle cx="308.5" cy="870.1" r="3.4" fill="#6D8934" fill-opacity="0.2" stroke="#6D8934" stroke-opacity="0.37" stroke-width="1.4"/>
<circle cx="314.4" cy="870.7" r="3.4" fill="#DB7B37" fill-opacity="0.2" stroke="#DB7B37" stroke-opacity="0.37" stroke-width="1.4"/>
<circle cx="322.0" cy="873.0" r="3.4" fill="#6D8934" fill-opacity="0.2" stroke="#6D8934" stroke-opacity="0.37" stroke-width="1.4"/>
<circle cx="281.0" cy="874.8" r="3.4" fill="#6D8934" fill-opacity="0.2" stroke="#6D8934" stroke-opacity="0.37" stroke-width="1.4"/>
<circle cx="290.4" cy="874.8" r="3.4" fill="#DB7B37" fill-opacity="0.2" stroke="#DB7B37" stroke-opacity="0.37" stroke-width="1.4"/>
<circle cx="295.1" cy="877.7" r="3.4" fill="#6D8934" fill-opacity="0.2" stroke="#6D8934" stroke-opacity="0.37" stroke-width="1.4"/>
<circle cx="292.1" cy="878.3" r="3.4" fill="#6D8934" fill-opacity="0.2" stroke="#6D8934" stroke-opacity="0.37" stroke-width="1.4"/>
<circle cx="263.5" cy="873.6" r="3.4" fill="#CD79CA" fill-opacity="0.2" stroke="#CD79CA" stroke-opacity="0.37" stroke-width="1.4"/>
<circle cx="256.5" cy="881.8" r="3.4" fill="#CD79CA" fill-opacity="0.2" stroke="#CD79CA" stroke-opacity="0.37" stroke-width="1.4"/>
<circle cx="275.2" cy="882.4" r="3.4" fill="#6D8934" fill-opacity="0.2" stroke="#6D8934" stroke-opacity="0.37" stroke-width="1.4"/>
<circle cx="310.9" cy="879.5" r="3.4" fill="#6D8934" fill-opacity="0.2" stroke="#6D8934" stroke-opacity="0.37" stroke-width="1.4"/>
<circle cx="318.5" cy="884.2" r="3.4" fill="#DB7B37" fill-opacity="0.2" stroke="#DB7B37" stroke-opacity="0.37" stroke-width="1.4"/>
<circle cx="287.5" cy="890.6" r="3.4" fill="#6D8934" fill-opacity="0.2" stroke="#6D8934" stroke-opacity="0.37" stroke-width="1.4"/>
<circle cx="301.5" cy="890.0" r="3.4" fill="#CD0E0E" fill-opacity="0.2" stroke="#CD0E0E" stroke-opacity="0.37" stroke-width="1.4"/>
<circle cx="250.6" cy="896.8" r="3.4" fill="#CD79CA" fill-opacity="0.2" stroke="#CD79CA" stroke-opacity="0.37" stroke-width="1.4"/>
<circle cx="247.1" cy="905.2" r="3.4" fill="#20D8DF" fill-opacity="0.2" stroke="#20D8DF" stroke-opacity="0.37" stroke-width="1.4"/>
<circle cx="292.7" cy="902.9" r="3.4" fill="#6D8934" fill-opacity="0.2" stroke="#6D8934" stroke-opacity="0.37" stroke-width="1.4"/>
<circle cx="286.2" cy="915.6" r="3.4" fill="#EA851E" fill-opacity="0.2" stroke="#EA851E" stroke-opacity="0.37" stroke-width="1.4"/>
<circle cx="301.9" cy="915.6" r="3.4" fill="#6D8934" fill-opacity="0.2" stroke="#6D8934" stroke-opacity="0.37" stroke-width="1.4"/>
<circle cx="322.0" cy="914.7" r="3.4" fill="#EA851E" fill-opacity="0.2" stroke="#EA851E" stroke-opacity="0.37" stroke-width="1.4"/>
<circle cx="257.8" cy="922.1" r="3.4" fill="#EA851E" fill-opacity="0.2" stroke="#EA851E" stroke-opacity="0.37" stroke-width="1.4"/>
<circle cx="269.6" cy="923.5" r="3.4" fill="#EA851E" fill-opacity="0.2" stroke="#EA851E" stroke-opacity="0.37" stroke-width="1.4"/>
<circle cx="239.2" cy="925.9" r="3.4" fill="#EA851E" fill-opacity="0.2" stroke="#EA851E" stroke-opacity="0.37" stroke-width="1.4"/>
<circle cx="242.0" cy="930.1" r="3.4" fill="#EA851E" fill-opacity="0.2" stroke="#EA851E" stroke-opacity="0.37" stroke-width="1.4"/>
<circle cx="281.7" cy="930.5" r="3.4" fill="#EA851E" fill-opacity="0.2" stroke="#EA851E" stroke-opacity="0.37" stroke-width="1.4"/>
<circle cx="289.0" cy="928.0" r="3.4" fill="#CD79CA" fill-opacity="0.2" stroke="#CD79CA" stroke-opacity="0.37" stroke-width="1.4"/>
<circle cx="293.5" cy="931.9" r="3.4" fill="#55805B" fill-opacity="0.2" stroke="#55805B" stroke-opacity="0.37" stroke-width="1.4"/>
<circle cx="293.2" cy="938.5" r="3.4" fill="#55805B" fill-opacity="0.2" stroke="#55805B" stroke-opacity="0.37" stroke-width="1.4"/>
<circle cx="310.7" cy="933.9" r="3.4" fill="#55805B" fill-opacity="0.2" stroke="#55805B" stroke-opacity="0.37" stroke-width="1.4"/>
<circle cx="322.0" cy="937.5" r="3.4" fill="#4969C9" fill-opacity="0.2" stroke="#4969C9" stroke-opacity="0.37" stroke-width="1.4"/>
<circle cx="274.7" cy="944.8" r="3.4" fill="#EA851E" fill-opacity="0.2" stroke="#EA851E" stroke-opacity="0.37" stroke-width="1.4"/>
<circle cx="272.8" cy="955.4" r="3.4" fill="#55805B" fill-opacity="0.2" stroke="#55805B" stroke-opacity="0.37" stroke-width="1.4"/>
<circle cx="299.5" cy="949.0" r="3.4" fill="#4969C9" fill-opacity="0.2" stroke="#4969C9" stroke-opacity="0.37" stroke-width="1.4"/>
<circle cx="324.4" cy="955.8" r="3.4" fill="#CD0E0E" fill-opacity="0.2" stroke="#CD0E0E" stroke-opacity="0.37" stroke-width="1.4"/>
<circle cx="301.3" cy="967.3" r="3.4" fill="#4969C9" fill-opacity="0.2" stroke="#4969C9" stroke-opacity="0.37" stroke-width="1.4"/>
<circle cx="335.0" cy="965.2" r="3.4" fill="#DB7B37" fill-opacity="0.2" stroke="#DB7B37" stroke-opacity="0.37" stroke-width="1.4"/>
<circle cx="402.6" cy="870.7" r="3.4" fill="#CD0E0E" fill-opacity="0.2" stroke="#CD0E0E" stroke-opacity="0.37" stroke-width="1.4"/>
<circle cx="420.2" cy="865.5" r="3.4" fill="#137E82" fill-opacity="0.2" stroke="#137E82" stroke-opacity="0.37" stroke-width="1.4"/>
<circle cx="389.7" cy="877.2" r="3.4" fill="#CD0E0E" fill-opacity="0.2" stroke="#CD0E0E" stroke-opacity="0.37" stroke-width="1.4"/>
<circle cx="382.7" cy="881.8" r="3.4" fill="#137E82" fill-opacity="0.2" stroke="#137E82" stroke-opacity="0.37" stroke-width="1.4"/>
<circle cx="372.8" cy="885.4" r="3.4" fill="#6D8934" fill-opacity="0.2" stroke="#6D8934" stroke-opacity="0.37" stroke-width="1.4"/>
<circle cx="421.9" cy="882.4" r="3.4" fill="#4969C9" fill-opacity="0.2" stroke="#4969C9" stroke-opacity="0.37" stroke-width="1.4"/>
<circle cx="421.3" cy="888.9" r="3.4" fill="#137E82" fill-opacity="0.2" stroke="#137E82" stroke-opacity="0.37" stroke-width="1.4"/>
<circle cx="413.7" cy="891.2" r="3.4" fill="#55805B" fill-opacity="0.2" stroke="#55805B" stroke-opacity="0.37" stroke-width="1.4"/>
<circle cx="403.8" cy="894.7" r="3.4" fill="#137E82" fill-opacity="0.2" stroke="#137E82" stroke-opacity="0.37" stroke-width="1.4"/>
<circle cx="377.5" cy="893.5" r="3.4" fill="#CD0E0E" fill-opacity="0.2" stroke="#CD0E0E" stroke-opacity="0.37" stroke-width="1.4"/>
<circle cx="371.0" cy="895.9" r="3.4" fill="#6D8934" fill-opacity="0.2" stroke="#6D8934" stroke-opacity="0.37" stroke-width="1.4"/>
<circle cx="348.8" cy="898.8" r="3.4" fill="#CD79CA" fill-opacity="0.2" stroke="#CD79CA" stroke-opacity="0.37" stroke-width="1.4"/>
<circle cx="342.4" cy="905.3" r="3.4" fill="#6D8934" fill-opacity="0.2" stroke="#6D8934" stroke-opacity="0.37" stroke-width="1.4"/>
<circle cx="383.3" cy="900.0" r="3.4" fill="#CD0E0E" fill-opacity="0.2" stroke="#CD0E0E" stroke-opacity="0.37" stroke-width="1.4"/>
<circle cx="376.9" cy="901.7" r="3.4" fill="#4969C9" fill-opacity="0.2" stroke="#4969C9" stroke-opacity="0.37" stroke-width="1.4"/>
<circle cx="375.7" cy="911.1" r="3.4" fill="#EA851E" fill-opacity="0.2" stroke="#EA851E" stroke-opacity="0.37" stroke-width="1.4"/>
<circle cx="337.7" cy="918.7" r="3.4" fill="#6D8934" fill-opacity="0.2" stroke="#6D8934" stroke-opacity="0.37" stroke-width="1.4"/>
<circle cx="337.1" cy="921.6" r="3.4" fill="#EA851E" fill-opacity="0.2" stroke="#EA851E" stroke-opacity="0.37" stroke-width="1.4"/>
<circle cx="346.5" cy="919.3" r="3.4" fill="#6D8934" fill-opacity="0.2" stroke="#6D8934" stroke-opacity="0.37" stroke-width="1.4"/>
<circle cx="400.3" cy="914.6" r="3.4" fill="#55805B" fill-opacity="0.2" stroke="#55805B" stroke-opacity="0.37" stroke-width="1.4"/>
<circle cx="403.2" cy="916.3" r="3.4" fill="#55805B" fill-opacity="0.2" stroke="#55805B" stroke-opacity="0.37" stroke-width="1.4"/>
<circle cx="386.2" cy="923.9" r="3.4" fill="#4969C9" fill-opacity="0.2" stroke="#4969C9" stroke-opacity="0.37" stroke-width="1.4"/>
<circle cx="344.1" cy="929.2" r="3.4" fill="#EA851E" fill-opacity="0.2" stroke="#EA851E" stroke-opacity="0.37" stroke-width="1.4"/>
<circle cx="382.7" cy="933.3" r="3.4" fill="#4969C9" fill-opacity="0.2" stroke="#4969C9" stroke-opacity="0.37" stroke-width="1.4"/>
<circle cx="414.9" cy="928.0" r="3.4" fill="#55805B" fill-opacity="0.2" stroke="#55805B" stroke-opacity="0.37" stroke-width="1.4"/>
<circle cx="419.6" cy="933.3" r="3.4" fill="#55805B" fill-opacity="0.2" stroke="#55805B" stroke-opacity="0.37" stroke-width="1.4"/>
<circle cx="410.2" cy="937.4" r="3.4" fill="#4969C9" fill-opacity="0.2" stroke="#4969C9" stroke-opacity="0.37" stroke-width="1.4"/>
<circle cx="370.4" cy="944.4" r="3.4" fill="#55805B" fill-opacity="0.2" stroke="#55805B" stroke-opacity="0.37" stroke-width="1.4"/>
<circle cx="382.7" cy="950.8" r="3.4" fill="#55805B" fill-opacity="0.2" stroke="#55805B" stroke-opacity="0.37" stroke-width="1.4"/>
<circle cx="370.4" cy="955.5" r="3.4" fill="#4969C9" fill-opacity="0.2" stroke="#4969C9" stroke-opacity="0.37" stroke-width="1.4"/>
<circle cx="358.7" cy="953.8" r="3.4" fill="#EA851E" fill-opacity="0.2" stroke="#EA851E" stroke-opacity="0.37" stroke-width="1.4"/>
<circle cx="353.5" cy="957.9" r="3.4" fill="#55805B" fill-opacity="0.2" stroke="#55805B" stroke-opacity="0.37" stroke-width="1.4"/>
<circle cx="406.1" cy="981.9" r="3.4" fill="#4969C9" fill-opacity="0.2" stroke="#4969C9" stroke-opacity="0.37" stroke-width="1.4"/>
<circle cx="445.8" cy="761.2" r="3.4" fill="#20D8DF" fill-opacity="0.2" stroke="#20D8DF" stroke-opacity="0.37" stroke-width="1.4"/>
<circle cx="433.7" cy="820.0" r="3.4" fill="#137E82" fill-opacity="0.2" stroke="#137E82" stroke-opacity="0.37" stroke-width="1.4"/>
<circle cx="507.4" cy="823.0" r="3.4" fill="#CD0E0E" fill-opacity="0.2" stroke="#CD0E0E" stroke-opacity="0.37" stroke-width="1.4"/>
<circle cx="426.1" cy="841.3" r="3.4" fill="#CD0E0E" fill-opacity="0.2" stroke="#CD0E0E" stroke-opacity="0.37" stroke-width="1.4"/>
<circle cx="442.0" cy="845.1" r="3.4" fill="#CD0E0E" fill-opacity="0.2" stroke="#CD0E0E" stroke-opacity="0.37" stroke-width="1.4"/>
<circle cx="439.8" cy="849.6" r="3.4" fill="#20D8DF" fill-opacity="0.2" stroke="#20D8DF" stroke-opacity="0.37" stroke-width="1.4"/>
<circle cx="443.6" cy="855.0" r="3.4" fill="#137E82" fill-opacity="0.2" stroke="#137E82" stroke-opacity="0.37" stroke-width="1.4"/>
<circle cx="499.8" cy="849.3" r="3.4" fill="#55805B" fill-opacity="0.2" stroke="#55805B" stroke-opacity="0.37" stroke-width="1.4"/>
<circle cx="506.7" cy="850.9" r="3.4" fill="#CD0E0E" fill-opacity="0.2" stroke="#CD0E0E" stroke-opacity="0.37" stroke-width="1.4"/>
<circle cx="456.5" cy="857.3" r="3.4" fill="#55805B" fill-opacity="0.2" stroke="#55805B" stroke-opacity="0.37" stroke-width="1.4"/>
<circle cx="438.2" cy="863.6" r="3.4" fill="#EA851E" fill-opacity="0.2" stroke="#EA851E" stroke-opacity="0.37" stroke-width="1.4"/>
<circle cx="461.8" cy="863.6" r="3.4" fill="#CD0E0E" fill-opacity="0.2" stroke="#CD0E0E" stroke-opacity="0.37" stroke-width="1.4"/>
<circle cx="450.1" cy="867.9" r="3.4" fill="#137E82" fill-opacity="0.2" stroke="#137E82" stroke-opacity="0.37" stroke-width="1.4"/>
<circle cx="451.2" cy="877.8" r="3.4" fill="#55805B" fill-opacity="0.2" stroke="#55805B" stroke-opacity="0.37" stroke-width="1.4"/>
<circle cx="434.0" cy="896.4" r="3.4" fill="#4969C9" fill-opacity="0.2" stroke="#4969C9" stroke-opacity="0.37" stroke-width="1.4"/>
<circle cx="455.7" cy="900.5" r="3.4" fill="#55805B" fill-opacity="0.2" stroke="#55805B" stroke-opacity="0.37" stroke-width="1.4"/>
<circle cx="533.3" cy="884.5" r="3.4" fill="#55805B" fill-opacity="0.2" stroke="#55805B" stroke-opacity="0.37" stroke-width="1.4"/>
<circle cx="451.9" cy="926.3" r="3.4" fill="#CD0E0E" fill-opacity="0.2" stroke="#CD0E0E" stroke-opacity="0.37" stroke-width="1.4"/>
<circle cx="483.6" cy="956.3" r="3.4" fill="#4969C9" fill-opacity="0.2" stroke="#4969C9" stroke-opacity="0.37" stroke-width="1.4"/>
<circle cx="450.4" cy="966.6" r="3.4" fill="#137E82" fill-opacity="0.2" stroke="#137E82" stroke-opacity="0.37" stroke-width="1.4"/>
<circle cx="464.1" cy="965.4" r="3.4" fill="#55805B" fill-opacity="0.2" stroke="#55805B" stroke-opacity="0.37" stroke-width="1.4"/>
<circle cx="413.3" cy="860.1" r="3.4" fill="#55805B" fill-opacity="0.2" stroke="#55805B" stroke-opacity="0.37" stroke-width="1.4"/>
<circle cx="302.4" cy="917.1" r="3.4" fill="#6D8934" fill-opacity="0.2" stroke="#6D8934" stroke-opacity="0.37" stroke-width="1.4"/>
</g>
<ellipse cx="384.70" cy="913.00" rx="20.05" ry="15.50" transform="rotate(-18.21 384.70 913.00)" fill="#6B8E23" fill-opacity="0.5" stroke="#6B8E23" stroke-width="1.2"/>
<circle cx="384.70" cy="913.00" r="10" fill="#6B8E23" fill-opacity="0.75"/>
<ellipse cx="375.60" cy="911.70" rx="28.93" ry="25.89" transform="rotate(47.84 375.60 911.70)" fill="#4169E1" fill-opacity="0.5" stroke="#4169E1" stroke-width="1.2"/>
<circle cx="373.80" cy="911.50" r="10" fill="#4169E1" fill-opacity="0.75"/>
<ellipse cx="344.30" cy="837.70" rx="26.17" ry="14.92" transform="rotate(-17.05 344.30 837.70)" fill="#00E5EE" fill-opacity="0.5" stroke="#00E5EE" stroke-width="1.2"/>
<circle cx="344.30" cy="837.70" r="10" fill="#00E5EE" fill-opacity="0.75"/>
<ellipse cx="265.45" cy="824.10" rx="30.10" ry="19.22" transform="rotate(-30.88 265.45 824.10)" fill="#DA70D6" fill-opacity="0.5" stroke="#DA70D6" stroke-width="1.2"/>
<circle cx="265.10" cy="824.10" r="10" fill="#DA70D6" fill-opacity="0.75"/>
<ellipse cx="301.90" cy="919.50" rx="39.71" ry="15.62" transform="rotate(-15.45 301.90 919.50)" fill="#FF8000" fill-opacity="0.5" stroke="#FF8000" stroke-width="1.2"/>
<circle cx="301.80" cy="919.80" r="10" fill="#FF8000" fill-opacity="0.75"/>
<ellipse cx="288.04" cy="835.25" rx="63.66" ry="32.21" transform="rotate(141.71 288.04 835.25)" fill="#9ACD32" fill-opacity="0.5" stroke="#9ACD32" stroke-width="1.2"/>
<circle cx="288.60" cy="835.40" r="10" fill="#9ACD32" fill-opacity="0.9"/>
<ellipse cx="359.37" cy="875.80" rx="49.40" ry="22.15" transform="rotate(167.24 359.37 875.80)" fill="#00868B" fill-opacity="0.5" stroke="#00868B" stroke-width="1.2"/>
<circle cx="359.40" cy="875.80" r="10" fill="#00868B" fill-opacity="0.75"/>
<ellipse cx="388.50" cy="908.60" rx="25.11" ry="17.70" transform="rotate(-30.73 388.50 908.60)" fill="#4E8456" fill-opacity="0.5" stroke="#4E8456" stroke-width="1.2"/>
<circle cx="389.90" cy="905.50" r="10" fill="#4E8456" fill-opacity="0.75"/>
<ellipse cx="375.60" cy="855.80" rx="31.35" ry="22.82" transform="rotate(-58.74 375.60 855.80)" fill="#EE0000" fill-opacity="0.5" stroke="#EE0000" stroke-width="1.2"/>
<circle cx="375.60" cy="855.80" r="10" fill="#EE0000" fill-opacity="0.75"/>
<ellipse cx="322.52" cy="865.84" rx="48.43" ry="39.80" transform="rotate(137.22 322.52 865.84)" fill="#EE7621" fill-opacity="0.5" stroke="#EE7621" stroke-width="1.2"/>
<circle cx="322.40" cy="862.20" r="10" fill="#EE7621" fill-opacity="0.75"/>
<rect x="105.8" y="3.0" width="443.90000000000003" height="449.0" fill="none" stroke="#000" stroke-width="1.7"/>
<line x1="91.9" y1="436.08" x2="105.8" y2="436.08" stroke="#000" stroke-width="1.7"/>
<text transform="translate(73.60 436.08) rotate(-90) scale(1 1.0)" text-anchor="middle" font-family="Liberation Sans, sans-serif" stroke="#000" stroke-width="0.15" font-size="23" >-4</text>
<line x1="91.9" y1="331.84" x2="105.8" y2="331.84" stroke="#000" stroke-width="1.7"/>
<text transform="translate(73.60 331.84) rotate(-90) scale(1 1.0)" text-anchor="middle" font-family="Liberation Sans, sans-serif" stroke="#000" stroke-width="0.15" font-size="23" >-2</text>
<line x1="91.9" y1="227.60" x2="105.8" y2="227.60" stroke="#000" stroke-width="1.7"/>
<text transform="translate(73.60 227.60) rotate(-90) scale(1 1.0)" text-anchor="middle" font-family="Liberation Sans, sans-serif" stroke="#000" stroke-width="0.15" font-size="23" >0</text>
<line x1="91.9" y1="123.36" x2="105.8" y2="123.36" stroke="#000" stroke-width="1.7"/>
<text transform="translate(73.60 123.36) rotate(-90) scale(1 1.0)" text-anchor="middle" font-family="Liberation Sans, sans-serif" stroke="#000" stroke-width="0.15" font-size="23" >2</text>
<line x1="91.9" y1="19.12" x2="105.8" y2="19.12" stroke="#000" stroke-width="1.7"/>
<text transform="translate(73.60 19.12) rotate(-90) scale(1 1.0)" text-anchor="middle" font-family="Liberation Sans, sans-serif" stroke="#000" stroke-width="0.15" font-size="23" >4</text>
<line x1="107.54" y1="452.0" x2="107.54" y2="465.8" stroke="#000" stroke-width="1.7"/>
<text transform="translate(107.54 501.20) scale(1 1.0)" text-anchor="middle" font-family="Liberation Sans, sans-serif" stroke="#000" stroke-width="0.15" font-size="23" >-6</text>
<line x1="185.56" y1="452.0" x2="185.56" y2="465.8" stroke="#000" stroke-width="1.7"/>
<text transform="translate(185.56 501.20) scale(1 1.0)" text-anchor="middle" font-family="Liberation Sans, sans-serif" stroke="#000" stroke-width="0.15" font-size="23" >-4</text>
<line x1="263.58" y1="452.0" x2="263.58" y2="465.8" stroke="#000" stroke-width="1.7"/>
<text transform="translate(263.58 501.20) scale(1 1.0)" text-anchor="middle" font-family="Liberation Sans, sans-serif" stroke="#000" stroke-width="0.15" font-size="23" >-2</text>
<line x1="341.60" y1="452.0" x2="341.60" y2="465.8" stroke="#000" stroke-width="1.7"/>
<text transform="translate(341.60 501.20) scale(1 1.0)" text-anchor="middle" font-family="Liberation Sans, sans-serif" stroke="#000" stroke-width="0.15" font-size="23" >0</text>
<line x1="419.62" y1="452.0" x2="419.62" y2="465.8" stroke="#000" stroke-width="1.7"/>
<text transform="translate(419.62 501.20) scale(1 1.0)" text-anchor="middle" font-family="Liberation Sans, sans-serif" stroke="#000" stroke-width="0.15" font-size="23" >2</text>
<line x1="497.64" y1="452.0" x2="497.64" y2="465.8" stroke="#000" stroke-width="1.7"/>
<text transform="translate(497.64 501.20) scale(1 1.0)" text-anchor="middle" font-family="Liberation Sans, sans-serif" stroke="#000" stroke-width="0.15" font-size="23" >4</text>
<text transform="translate(327.75 555.30) scale(1 1.0)" text-anchor="middle" font-family="Liberation Sans, sans-serif" stroke="#000" stroke-width="0.15" font-size="23" >PC1 (65 %)</text>
<text transform="translate(19.30 227.20) rotate(-90) scale(1 1.0)" text-anchor="middle" font-family="Liberation Sans, sans-serif" stroke="#000" stroke-width="0.15" font-size="23" >PC2 (26 %)</text>
<line x1="341.60" y1="227.60" x2="259.00" y2="211.40" stroke="#000" stroke-width="1.6"/>
<polyline points="270.73,219.04 259.00,211.40 272.75,208.75" fill="none" stroke="#000" stroke-width="1.6"/>
<line x1="341.60" y1="227.60" x2="414.60" y2="137.30" stroke="#000" stroke-width="1.6"/>
<polyline points="402.36,144.10 414.60,137.30 410.52,150.69" fill="none" stroke="#000" stroke-width="1.6"/>
<line x1="341.60" y1="227.60" x2="425.10" y2="199.80" stroke="#000" stroke-width="1.6"/>
<polyline points="411.13,198.92 425.10,199.80 414.44,208.88" fill="none" stroke="#000" stroke-width="1.6"/>
<line x1="341.60" y1="227.60" x2="411.10" y2="291.70" stroke="#000" stroke-width="1.6"/>
<polyline points="405.11,279.04 411.10,291.70 398.00,286.75" fill="none" stroke="#000" stroke-width="1.6"/>
<line x1="341.60" y1="227.60" x2="359.30" y2="400.80" stroke="#000" stroke-width="1.6"/>
<polyline points="363.20,387.35 359.30,400.80 352.76,388.42" fill="none" stroke="#000" stroke-width="1.6"/>
<text transform="translate(227.00 216.70) scale(1 1.0)" text-anchor="start" font-family="Liberation Sans, sans-serif" stroke="#000" stroke-width="0.15" font-size="23" >RD</text>
<text transform="translate(406.60 128.00) scale(1 1.0)" text-anchor="start" font-family="Liberation Sans, sans-serif" stroke="#000" stroke-width="0.15" font-size="23" >SRL</text>
<text transform="translate(413.60 202.80) scale(1 1.0)" text-anchor="start" font-family="Liberation Sans, sans-serif" stroke="#000" stroke-width="0.15" font-size="23" >SRTA</text>
<text transform="translate(387.40 313.90) scale(1 1.0)" text-anchor="start" font-family="Liberation Sans, sans-serif" stroke="#000" stroke-width="0.15" font-size="23" >Branch</text>
<text transform="translate(339.30 443.80) scale(1 1.0)" text-anchor="start" font-family="Liberation Sans, sans-serif" stroke="#000" stroke-width="0.15" font-size="23" >RTD</text>
<rect x="105.8" y="642.3" width="443.90000000000003" height="449.0" fill="none" stroke="#000" stroke-width="1.7"/>
<line x1="91.9" y1="1075.38" x2="105.8" y2="1075.38" stroke="#000" stroke-width="1.7"/>
<text transform="translate(73.60 1075.38) rotate(-90) scale(1 1.0)" text-anchor="middle" font-family="Liberation Sans, sans-serif" stroke="#000" stroke-width="0.15" font-size="23" >-4</text>
<line x1="91.9" y1="971.14" x2="105.8" y2="971.14" stroke="#000" stroke-width="1.7"/>
<text transform="translate(73.60 971.14) rotate(-90) scale(1 1.0)" text-anchor="middle" font-family="Liberation Sans, sans-serif" stroke="#000" stroke-width="0.15" font-size="23" >-2</text>
<line x1="91.9" y1="866.90" x2="105.8" y2="866.90" stroke="#000" stroke-width="1.7"/>
<text transform="translate(73.60 866.90) rotate(-90) scale(1 1.0)" text-anchor="middle" font-family="Liberation Sans, sans-serif" stroke="#000" stroke-width="0.15" font-size="23" >0</text>
<line x1="91.9" y1="762.66" x2="105.8" y2="762.66" stroke="#000" stroke-width="1.7"/>
<text transform="translate(73.60 762.66) rotate(-90) scale(1 1.0)" text-anchor="middle" font-family="Liberation Sans, sans-serif" stroke="#000" stroke-width="0.15" font-size="23" >2</text>
<line x1="91.9" y1="658.42" x2="105.8" y2="658.42" stroke="#000" stroke-width="1.7"/>
<text transform="translate(73.60 658.42) rotate(-90) scale(1 1.0)" text-anchor="middle" font-family="Liberation Sans, sans-serif" stroke="#000" stroke-width="0.15" font-size="23" >4</text>
<line x1="107.54" y1="1091.3" x2="107.54" y2="1105.1" stroke="#000" stroke-width="1.7"/>
<text transform="translate(107.54 1140.50) scale(1 1.0)" text-anchor="middle" font-family="Liberation Sans, sans-serif" stroke="#000" stroke-width="0.15" font-size="23" >-6</text>
<line x1="185.56" y1="1091.3" x2="185.56" y2="1105.1" stroke="#000" stroke-width="1.7"/>
<text transform="translate(185.56 1140.50) scale(1 1.0)" text-anchor="middle" font-family="Liberation Sans, sans-serif" stroke="#000" stroke-width="0.15" font-size="23" >-4</text>
<line x1="263.58" y1="1091.3" x2="263.58" y2="1105.1" stroke="#000" stroke-width="1.7"/>
<text transform="translate(263.58 1140.50) scale(1 1.0)" text-anchor="middle" font-family="Liberation Sans, sans-serif" stroke="#000" stroke-width="0.15" font-size="23" >-2</text>
<line x1="341.60" y1="1091.3" x2="341.60" y2="1105.1" stroke="#000" stroke-width="1.7"/>
<text transform="translate(341.60 1140.50) scale(1 1.0)" text-anchor="middle" font-family="Liberation Sans, sans-serif" stroke="#000" stroke-width="0.15" font-size="23" >0</text>
<line x1="419.62" y1="1091.3" x2="419.62" y2="1105.1" stroke="#000" stroke-width="1.7"/>
<text transform="translate(419.62 1140.50) scale(1 1.0)" text-anchor="middle" font-family="Liberation Sans, sans-serif" stroke="#000" stroke-width="0.15" font-size="23" >2</text>
<line x1="497.64" y1="1091.3" x2="497.64" y2="1105.1" stroke="#000" stroke-width="1.7"/>
<text transform="translate(497.64 1140.50) scale(1 1.0)" text-anchor="middle" font-family="Liberation Sans, sans-serif" stroke="#000" stroke-width="0.15" font-size="23" >4</text>
<text transform="translate(327.75 1194.60) scale(1 1.0)" text-anchor="middle" font-family="Liberation Sans, sans-serif" stroke="#000" stroke-width="0.15" font-size="23" >PC1 (65 %)</text>
<text transform="translate(19.30 866.50) rotate(-90) scale(1 1.0)" text-anchor="middle" font-family="Liberation Sans, sans-serif" stroke="#000" stroke-width="0.15" font-size="23" >PC2 (26 %)</text>
<line x1="341.60" y1="866.90" x2="259.00" y2="850.70" stroke="#000" stroke-width="1.6"/>
<polyline points="270.73,858.34 259.00,850.70 272.75,848.05" fill="none" stroke="#000" stroke-width="1.6"/>
<line x1="341.60" y1="866.90" x2="414.60" y2="776.60" stroke="#000" stroke-width="1.6"/>
<polyline points="402.36,783.40 414.60,776.60 410.52,789.99" fill="none" stroke="#000" stroke-width="1.6"/>
<line x1="341.60" y1="866.90" x2="425.10" y2="839.10" stroke="#000" stroke-width="1.6"/>
<polyline points="411.13,838.22 425.10,839.10 414.44,848.18" fill="none" stroke="#000" stroke-width="1.6"/>
<line x1="341.60" y1="866.90" x2="411.10" y2="931.00" stroke="#000" stroke-width="1.6"/>
<polyline points="405.11,918.34 411.10,931.00 398.00,926.05" fill="none" stroke="#000" stroke-width="1.6"/>
<line x1="341.60" y1="866.90" x2="359.30" y2="1040.10" stroke="#000" stroke-width="1.6"/>
<polyline points="363.20,1026.65 359.30,1040.10 352.76,1027.72" fill="none" stroke="#000" stroke-width="1.6"/>
<text transform="translate(227.00 856.00) scale(1 1.0)" text-anchor="start" font-family="Liberation Sans, sans-serif" stroke="#000" stroke-width="0.15" font-size="23" >RD</text>
<text transform="translate(406.60 767.30) scale(1 1.0)" text-anchor="start" font-family="Liberation Sans, sans-serif" stroke="#000" stroke-width="0.15" font-size="23" >SRL</text>
<text transform="translate(413.60 842.10) scale(1 1.0)" text-anchor="start" font-family="Liberation Sans, sans-serif" stroke="#000" stroke-width="0.15" font-size="23" >SRTA</text>
<text transform="translate(387.40 953.20) scale(1 1.0)" text-anchor="start" font-family="Liberation Sans, sans-serif" stroke="#000" stroke-width="0.15" font-size="23" >Branch</text>
<text transform="translate(339.30 1083.10) scale(1 1.0)" text-anchor="start" font-family="Liberation Sans, sans-serif" stroke="#000" stroke-width="0.15" font-size="23" >RTD</text>
<text transform="translate(6.50 34.40) scale(1 1.0)" text-anchor="start" font-family="Liberation Sans, sans-serif" stroke="#000" stroke-width="0.15" font-size="36.5" font-weight="bold">A</text>
<text transform="translate(6.00 623.40) scale(1 1.0)" text-anchor="start" font-family="Liberation Sans, sans-serif" stroke="#000" stroke-width="0.15" font-size="36.5" font-weight="bold">B</text>
<text transform="translate(616.80 47.30) scale(1 1.0)" text-anchor="start" font-family="Liberation Sans, sans-serif" stroke="#000" stroke-width="0.15" font-size="23" >Superorder</text>
<circle cx="596.2" cy="73.70" r="5.5" fill="#F28A1C"/>
<text transform="translate(616.60 81.90) scale(1 1.0)" text-anchor="start" font-family="Liberation Sans, sans-serif" stroke="#000" stroke-width="0.15" font-size="23" >Asterid (58)</text>
<circle cx="596.2" cy="100.70" r="5.5" fill="#6A1F9A"/>
<text transform="translate(616.60 108.90) scale(1 1.0)" text-anchor="start" font-family="Liberation Sans, sans-serif" stroke="#000" stroke-width="0.15" font-size="23" >Magnoliid (36)</text>
<circle cx="596.2" cy="127.70" r="5.5" fill="#1F8BEE"/>
<text transform="translate(616.60 135.90) scale(1 1.0)" text-anchor="start" font-family="Liberation Sans, sans-serif" stroke="#000" stroke-width="0.15" font-size="23" >Rosid (124)</text>
<text transform="translate(719.00 686.00) scale(1 1.0)" text-anchor="middle" font-family="Liberation Sans, sans-serif" stroke="#000" stroke-width="0.15" font-size="23" >Family</text>
<circle cx="596.3" cy="712.20" r="5.5" fill="#6B8E23"/>
<text transform="translate(615.80 721.60) scale(1 1.0)" text-anchor="start" font-family="Liberation Sans, sans-serif" stroke="#000" stroke-width="0.15" font-size="23" >Burseraceae (29)</text>
<circle cx="596.3" cy="739.30" r="5.5" fill="#4169E1"/>
<text transform="translate(615.80 748.70) scale(1 1.0)" text-anchor="start" font-family="Liberation Sans, sans-serif" stroke="#000" stroke-width="0.15" font-size="23" >Chrysobalanaceae (18)</text>
<circle cx="596.3" cy="766.40" r="5.5" fill="#1EE6E6"/>
<text transform="translate(615.80 775.80) scale(1 1.0)" text-anchor="start" font-family="Liberation Sans, sans-serif" stroke="#000" stroke-width="0.15" font-size="23" >Fabaceae (23)</text>
<circle cx="596.3" cy="793.50" r="5.5" fill="#DA70D6"/>
<text transform="translate(615.80 802.90) scale(1 1.0)" text-anchor="start" font-family="Liberation Sans, sans-serif" stroke="#000" stroke-width="0.15" font-size="23" >Lauraceae (36)</text>
<circle cx="596.3" cy="820.60" r="5.5" fill="#FF8000"/>
<text transform="translate(615.80 830.00) scale(1 1.0)" text-anchor="start" font-family="Liberation Sans, sans-serif" stroke="#000" stroke-width="0.15" font-size="23" >Lecythidaceae (14)</text>
<circle cx="596.3" cy="847.70" r="5.5" fill="#9ACD32"/>
<text transform="translate(615.80 857.10) scale(1 1.0)" text-anchor="start" font-family="Liberation Sans, sans-serif" stroke="#000" stroke-width="0.15" font-size="23" >Malvaceae (5)</text>
<circle cx="596.3" cy="874.80" r="5.5" fill="#138A90"/>
<text transform="translate(615.80 884.20) scale(1 1.0)" text-anchor="start" font-family="Liberation Sans, sans-serif" stroke="#000" stroke-width="0.15" font-size="23" >Moraceae (19)</text>
<circle cx="596.3" cy="901.90" r="5.5" fill="#4E8456"/>
<text transform="translate(615.80 911.30) scale(1 1.0)" text-anchor="start" font-family="Liberation Sans, sans-serif" stroke="#000" stroke-width="0.15" font-size="23" >Myrtaceae (30)</text>
<circle cx="596.3" cy="929.00" r="5.5" fill="#EE0010"/>
<text transform="translate(615.80 938.40) scale(1 1.0)" text-anchor="start" font-family="Liberation Sans, sans-serif" stroke="#000" stroke-width="0.15" font-size="23" >Rubiaceae (33)</text>
<circle cx="596.3" cy="956.10" r="5.5" fill="#EE7621"/>
<text transform="translate(615.80 965.50) scale(1 1.0)" text-anchor="start" font-family="Liberation Sans, sans-serif" stroke="#000" stroke-width="0.15" font-size="23" >Sapotaceae (11)</text>
</svg></body></html>
